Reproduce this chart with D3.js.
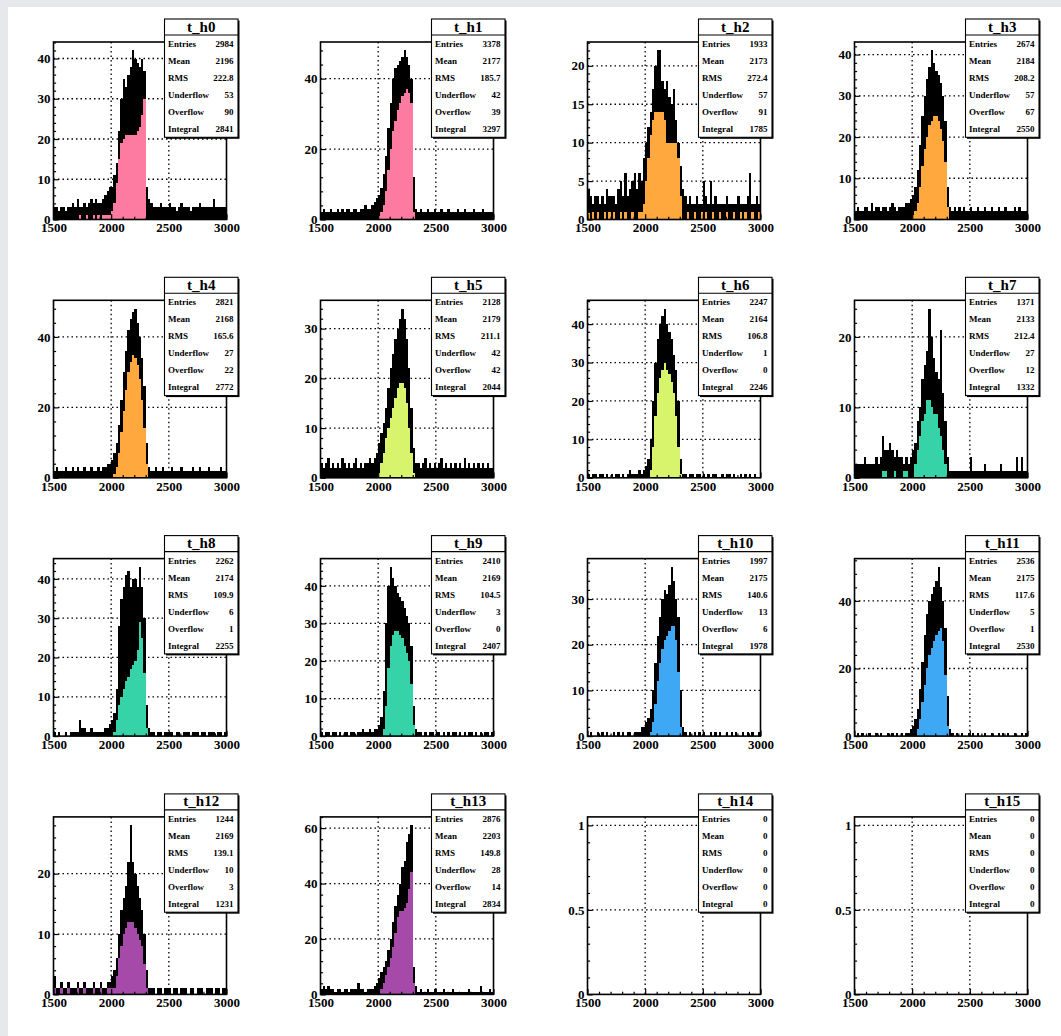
<!DOCTYPE html>
<html><head><meta charset="utf-8">
<script src="https://cdn.jsdelivr.net/npm/d3@7"></script>
<style>html,body{margin:0;padding:0;background:#e6e8ec;}svg{display:block;}</style>
</head><body><svg id="c" width="1061" height="1036"></svg>
<script>
const names = ["t_h0","t_h1","t_h2","t_h3","t_h4","t_h5","t_h6","t_h7","t_h8","t_h9","t_h10","t_h11","t_h12","t_h13","t_h14","t_h15"];
const xMin = 1500, xMax = 3000, binWidth = 20;
const xTicks = [1500, 2000, 2500, 3000];
const yTickStep = [10,20,5,10,20,10,10,10,10,10,10,20,10,20,0.5,0.5];
const fillColors = ["#fd7ba0","#fd7ba0","#fea83e","#fea83e","#fea83e","#d8f46c","#d8f46c","#36d3a8","#36d3a8","#36d3a8","#3fa8f4","#3fa8f4","#a54aa8","#a54aa8","#ffffff","#ffffff"];
const statLabels = ["Entries","Mean","RMS","Underflow","Overflow","Integral"];
const entries   = [2984,3378,1933,2674,2821,2128,2247,1371,2262,2410,1997,2536,1244,2876,0,0];
const means     = [2196,2177,2173,2184,2168,2179,2164,2133,2174,2169,2175,2175,2169,2203,0,0];
const rmsVals   = [222.8,185.7,272.4,208.2,165.6,211.1,106.8,212.4,109.9,104.5,140.6,117.6,139.1,149.8,0,0];
const underflows= [53,42,57,57,27,42,1,27,6,3,13,5,10,28,0,0];
const overflows = [90,39,91,67,22,42,0,12,1,0,6,1,3,14,0,0];
const integrals = [2841,3297,1785,2550,2772,2044,2246,1332,2255,2407,1978,2530,1231,2834,0,0];

// upper envelope (black line peaks) and lower envelope (visible fill) per 20-unit bin, 1500..3000
const hi0 = [3,3,2,3,3, 2,3,3,4,3, 5,3,3,4,3, 4,5,4,5,4, 4,5,6,7,8, 8,11,14,22,30, 35,33,36,38,42, 40,39,38,40,37, 8,5,4,3,3, 3,4,3,3,3, 4,3,3,2,3, 4,3,3,3,2, 3,3,3,4,3, 3,3,3,3,5, 3,3,3,3,3];
const lo0 = [0,0,0,0,0, 0,0,0,0,0, 0,1,0,0,1, 0,0,1,0,1, 0,1,1,1,1, 2,4,9,15,19, 20,21,21,21,21, 21,22,23,26,30, 0,0,0,0,0, 0,0,0,0,0, 0,0,0,0,0, 0,0,0,0,0, 0,0,0,0,0, 0,0,0,0,0, 0,0,0,0,0];
const hi1 = [2,3,2,2,3, 2,2,3,2,3, 2,3,3,2,3, 3,2,3,3,4, 3,3,4,5,6, 7,9,13,18,26, 33,40,43,44,45, 46,48,46,44,40, 12,3,2,3,2, 2,3,2,2,3, 2,2,3,2,2, 3,2,2,2,3, 2,2,3,2,2, 2,3,2,2,2, 3,2,2,2,2];
const lo1 = [0,0,0,0,0, 0,0,0,0,0, 0,0,0,0,0, 0,0,0,0,0, 0,0,0,0,0, 1,2,4,8,14, 20,25,28,31,33, 35,36,37,36,33, 2,0,0,0,0, 0,0,0,0,0, 0,0,0,0,0, 0,0,0,0,0, 0,0,0,0,0, 0,0,0,0,0, 0,0,0,0,0];
const hi2 = [4,3,2,3,3, 2,3,2,4,3, 3,3,2,4,5, 3,6,3,4,5, 6,4,6,5,8, 10,12,14,17,20, 22,22,18,17,18, 16,15,17,13,10, 7,4,3,2,3, 2,2,3,2,2, 5,3,2,5,2, 3,2,2,2,2, 3,2,2,2,2, 3,2,2,2,3, 6,2,2,3,2];
const lo2 = [1,0,1,0,1, 0,0,1,0,1, 0,1,0,0,1, 0,1,0,0,1, 0,0,1,1,2, 5,8,11,13,14, 14,14,14,13,10, 10,10,10,10,8, 3,0,0,1,0, 0,1,0,0,1, 0,1,0,0,1, 0,0,1,0,0, 1,0,0,1,0, 0,1,0,1,0, 0,1,0,0,1];
const hi3 = [2,3,2,2,3, 3,2,4,2,3, 3,2,3,3,2, 3,4,3,2,3, 3,3,4,4,5, 6,8,12,18,25, 30,34,37,41,38, 36,35,33,30,24, 8,3,2,3,2, 3,2,3,2,2, 3,2,2,3,2, 2,3,2,2,3, 2,2,3,2,2, 3,2,2,2,3, 2,3,2,2,2];
const lo3 = [0,0,0,0,0, 0,0,0,0,0, 0,0,0,0,0, 0,0,0,0,0, 0,0,0,0,0, 1,2,4,8,13, 17,20,23,24,25, 25,24,22,19,14, 3,0,0,0,0, 0,0,0,0,0, 0,0,0,0,0, 0,0,0,0,0, 0,0,0,0,0, 0,0,0,0,0, 0,0,0,0,0];
const hi4 = [2,3,2,2,2, 3,2,2,3,2, 3,2,2,3,2, 2,3,2,2,3, 2,3,3,4,4, 5,7,10,15,22, 30,36,42,45,47, 48,44,40,34,26, 10,3,2,2,3, 2,2,3,2,2, 2,3,2,2,2, 3,2,2,2,2, 3,2,2,3,2, 2,2,3,2,2, 2,2,3,2,2];
const lo4 = [0,0,0,0,0, 0,0,0,0,0, 0,0,0,0,0, 0,0,0,0,0, 0,0,0,0,0, 0,1,3,7,13, 19,25,30,33,35, 34,32,28,22,14, 4,0,0,0,0, 0,0,0,0,0, 0,0,0,0,0, 0,0,0,0,0, 0,0,0,0,0, 0,0,0,0,0, 0,0,0,0,0];
const hi5 = [3,2,3,4,2, 3,2,3,2,4, 3,2,3,2,3, 4,2,3,2,3, 3,4,3,4,5, 7,9,11,14,18, 22,25,28,30,32, 34,32,28,22,14, 6,3,3,2,3, 4,2,3,2,3, 2,3,4,2,3, 2,3,2,3,2, 3,2,4,2,3, 2,3,2,3,2, 3,2,3,2,2];
const lo5 = [0,0,0,0,0, 0,0,0,0,0, 0,0,0,0,0, 0,0,0,0,0, 0,0,0,0,0, 1,3,5,8,10, 12,14,16,18,19, 19,18,15,10,5, 1,0,0,0,0, 0,0,0,0,0, 0,0,0,0,0, 0,0,0,0,0, 0,0,0,0,0, 0,0,0,0,0, 0,0,0,0,0];
const hi6 = [1,0,1,1,0, 1,1,0,1,0, 1,0,1,1,0, 1,0,1,2,1, 1,1,2,1,2, 3,5,10,20,30, 36,40,42,44,40, 38,36,32,28,20, 5,1,1,0,1, 1,0,1,1,0, 1,0,1,0,1, 1,0,0,1,0, 1,1,0,1,0, 0,1,0,1,0, 1,0,1,0,0];
const lo6 = [0,0,0,0,0, 0,0,0,0,0, 0,0,0,0,0, 0,0,0,0,0, 0,0,0,0,0, 0,0,2,8,16, 22,26,28,30,28, 27,25,22,16,8, 1,0,0,0,0, 0,0,0,0,0, 0,0,0,0,0, 0,0,0,0,0, 0,0,0,0,0, 0,0,0,0,0, 0,0,0,0,0];
const hi7 = [2,2,2,2,3, 2,2,2,2,3, 2,3,6,4,4, 5,4,3,4,3, 3,2,3,2,3, 4,5,8,10,14, 16,18,24,20,17, 15,14,21,12,8, 3,1,1,1,1, 1,1,1,1,1, 3,1,1,1,1, 1,2,1,1,1, 1,1,1,2,1, 1,1,1,1,1, 3,1,3,1,1];
const lo7 = [0,0,0,0,0, 0,0,0,0,0, 0,0,1,1,0, 0,0,1,0,0, 0,1,1,0,0, 0,2,4,6,8, 9,11,11,10,9, 9,7,6,4,2, 0,0,0,0,0, 0,0,0,0,0, 0,0,0,0,0, 0,0,0,0,0, 0,0,0,0,0, 0,0,0,0,0, 0,0,0,0,0];
const hi8 = [1,0,1,0,0, 1,0,1,1,1, 1,4,2,2,1, 1,2,1,1,1, 1,1,2,2,3, 4,6,12,28,35, 38,41,42,38,40, 40,38,43,38,30, 8,2,1,1,0, 1,1,0,1,1, 1,1,0,1,1, 0,1,1,1,0, 1,1,1,0,1, 1,0,1,1,1, 0,1,1,0,1];
const lo8 = [0,0,0,0,0, 0,0,0,0,0, 0,0,0,0,0, 0,0,0,0,0, 0,0,0,0,0, 0,1,4,8,10, 12,14,15,17,18, 19,22,29,25,16, 2,0,0,0,0, 0,0,0,0,0, 0,0,0,0,0, 0,0,0,0,0, 0,0,0,0,0, 0,0,0,0,0, 0,0,0,0,0];
const hi9 = [1,0,1,1,0, 1,1,0,1,0, 1,1,0,1,1, 0,1,1,2,1, 1,2,1,2,2, 3,5,12,30,40, 45,42,40,38,37, 36,34,32,30,24, 8,2,1,1,0, 1,0,1,1,0, 1,1,0,1,0, 1,0,1,1,0, 1,0,1,0,1, 1,0,1,0,1, 0,1,1,0,1];
const lo9 = [0,0,0,0,0, 0,0,0,0,0, 0,0,0,0,0, 0,0,0,0,0, 0,0,0,0,0, 0,0,2,8,18, 24,27,28,28,27, 26,24,22,20,14, 3,0,0,0,0, 0,0,0,0,0, 0,0,0,0,0, 0,0,0,0,0, 0,0,0,0,0, 0,0,0,0,0, 0,0,0,0,0];
const hi10 = [0,1,0,0,1, 0,1,0,1,0, 0,1,0,1,0, 1,0,1,1,0, 1,1,1,2,2, 3,4,6,10,16, 22,26,30,32,31, 33,37,34,30,26, 10,2,1,0,1, 0,1,0,1,0, 1,0,0,1,0, 1,0,1,0,0, 1,0,1,0,1, 0,0,1,0,1, 0,1,0,0,1];
const lo10 = [0,0,0,0,0, 0,0,0,0,0, 0,0,0,0,0, 0,0,0,0,0, 0,0,0,0,0, 0,0,1,3,7, 12,16,19,21,22, 23,24,24,21,14, 2,0,0,0,0, 0,0,0,0,0, 0,0,0,0,0, 0,0,0,0,0, 0,0,0,0,0, 0,0,0,0,0, 0,0,0,0,0];
const hi11 = [0,1,0,1,0, 0,1,0,0,1, 0,1,0,0,1, 0,1,0,1,0, 1,0,1,1,2, 3,5,8,14,22, 30,36,40,42,44, 46,50,44,40,32, 12,2,1,0,1, 0,1,0,0,1, 0,1,0,1,0, 0,1,0,0,1, 0,0,1,0,1, 0,1,0,0,1, 0,0,1,0,1];
const lo11 = [0,0,0,0,0, 0,0,0,0,0, 0,0,0,0,0, 0,0,0,0,0, 0,0,0,0,0, 0,0,2,5,10, 15,20,24,26,28, 30,31,32,28,18, 3,0,0,0,0, 0,0,0,0,0, 0,0,0,0,0, 0,0,0,0,0, 0,0,0,0,0, 0,0,0,0,0, 0,0,0,0,0];
const hi12 = [3,1,1,2,1, 1,2,1,1,1, 2,1,1,2,1, 1,1,2,1,1, 2,1,1,2,2, 3,4,6,10,14, 16,18,22,28,22, 20,18,16,14,10, 4,1,1,1,0, 1,1,0,1,1, 1,0,1,1,0, 1,1,1,0,1, 1,0,1,1,1, 0,1,1,1,0, 1,1,0,1,1];
const lo12 = [1,0,0,1,0, 0,1,0,0,0, 1,0,0,1,0, 0,0,1,0,0, 1,0,0,1,1, 1,1,3,6,8, 10,11,12,12,12, 11,10,9,8,5, 1,0,0,0,0, 0,0,0,0,0, 0,0,0,0,0, 0,0,0,0,0, 0,0,0,0,0, 0,0,0,0,0, 0,0,0,0,0];
const hi13 = [2,3,2,3,2, 2,1,2,2,1, 2,2,1,2,2, 2,4,2,2,1, 2,2,2,3,4, 6,8,10,12,16, 20,26,32,36,40, 46,48,55,58,61, 10,3,1,2,1, 1,2,1,1,2, 1,1,1,2,1, 1,1,2,1,1, 1,1,1,1,2, 1,1,1,1,3, 1,1,1,2,1];
const lo13 = [0,0,0,0,0, 0,0,0,0,0, 0,0,0,0,0, 0,0,0,0,0, 0,0,0,0,0, 0,2,4,7,10, 13,17,22,28,30, 30,31,33,38,44, 4,0,0,0,0, 0,0,0,0,0, 0,0,0,0,0, 0,0,0,0,0, 0,0,0,0,0, 0,0,0,0,0, 0,0,0,0,0];
const hi14 = [0,0,0,0,0, 0,0,0,0,0, 0,0,0,0,0, 0,0,0,0,0, 0,0,0,0,0, 0,0,0,0,0, 0,0,0,0,0, 0,0,0,0,0, 0,0,0,0,0, 0,0,0,0,0, 0,0,0,0,0, 0,0,0,0,0, 0,0,0,0,0, 0,0,0,0,0, 0,0,0,0,0];
const lo14 = hi14;
const hi15 = hi14;
const lo15 = hi14;

const hiData = [hi0,hi1,hi2,hi3,hi4,hi5,hi6,hi7,hi8,hi9,hi10,hi11,hi12,hi13,hi14,hi15];
const loData = [lo0,lo1,lo2,lo3,lo4,lo5,lo6,lo7,lo8,lo9,lo10,lo11,lo12,lo13,lo14,lo15];

const svg = d3.select("#c");
svg.append("rect").attr("x",8).attr("y",7).attr("width",1053).attr("height",1029).attr("fill","#fff");
const padW = 267, padH = 258.3, ox = 8, oy = 7;
const FONT = "'Liberation Serif','Times New Roman',serif";

names.forEach((name, k) => {
  const col = k % 4, row = Math.floor(k / 4);
  const px = ox + col * padW, py = oy + row * padH;
  const fl = px + 45.5, fr = px + 218.5, ft = py + 35, fb = py + 212.5;
  const hi = hiData[k], lo = loData[k];
  const maxV = d3.max(hi);
  const yMax = maxV > 0 ? maxV * 1.05 : 1.05;
  const x = d3.scaleLinear().domain([xMin, xMax]).range([fl, fr]);
  const y = d3.scaleLinear().domain([0, yMax]).range([fb, ft]);
  const g = svg.append("g");
  const step = yTickStep[k];
  const yMajor = d3.range(0, yMax + 1e-9, step);
  const yMinor = d3.range(0, yMax + 1e-9, step / 5).filter(v => Math.abs(v / step - Math.round(v / step)) > 1e-6);
  const xMinor = d3.range(xMin, xMax + 1e-9, 100).filter(v => v % 500 !== 0);

  // grid
  g.selectAll("line.gx").data(xTicks.filter(v => v > xMin && v < xMax)).join("line")
    .attr("x1", d => x(d)).attr("x2", d => x(d)).attr("y1", ft).attr("y2", fb)
    .attr("stroke", "#000").attr("stroke-width", 1.3).attr("stroke-dasharray", "1.5,3");
  g.selectAll("line.gy").data(yMajor.filter(v => v > 0)).join("line")
    .attr("x1", fl).attr("x2", fr).attr("y1", d => y(d)).attr("y2", d => y(d))
    .attr("stroke", "#000").attr("stroke-width", 1.3).attr("stroke-dasharray", "1.5,3");

  // histogram
  const bins = hi.map((h, i) => ({x0: xMin + i * binWidth, x1: xMin + (i + 1) * binWidth, hi: h, lo: lo[i]}));
  g.append("g").attr("shape-rendering", "crispEdges").selectAll("rect").data(bins.filter(b => b.lo > 0)).join("rect")
    .attr("x", d => x(d.x0)).attr("width", d => x(d.x1) - x(d.x0))
    .attr("y", d => y(d.lo)).attr("height", d => y(0) - y(d.lo))
    .attr("fill", fillColors[k]);
  g.append("g").attr("shape-rendering", "crispEdges").selectAll("rect").data(bins.filter(b => b.hi > b.lo)).join("rect")
    .attr("x", d => x(d.x0)).attr("width", d => x(d.x1) - x(d.x0))
    .attr("y", d => y(d.hi)).attr("height", d => y(d.lo) - y(d.hi))
    .attr("fill", "#000");

  // axes
  g.append("g").attr("transform", `translate(0,${fb})`)
    .call(d3.axisBottom(x).tickValues(xTicks).tickSize(-5.3).tickPadding(3.5).tickFormat(d3.format("d")));
  g.append("g").attr("transform", `translate(0,${fb})`)
    .call(d3.axisBottom(x).tickValues(xMinor).tickSize(-2.7).tickFormat(""));
  g.append("g").attr("transform", `translate(${fl},0)`)
    .call(d3.axisLeft(y).tickValues(yMajor).tickSize(-5.2).tickPadding(3).tickFormat(d3.format("~g")));
  g.append("g").attr("transform", `translate(${fl},0)`)
    .call(d3.axisLeft(y).tickValues(yMinor).tickSize(-2.6).tickFormat(""));
  g.selectAll(".domain").remove();
  g.selectAll(".tick line").attr("stroke", "#000").attr("stroke-width", 1.2);
  g.selectAll(".tick text").attr("font-family", FONT).attr("font-weight", "bold").attr("font-size", 13).attr("fill", "#000");

  // frame
  g.append("rect").attr("x", fl).attr("y", ft).attr("width", fr - fl).attr("height", fb - ft)
    .attr("fill", "none").attr("stroke", "#000").attr("stroke-width", 1.6);

  // stats box
  const bx = px + 156.5, by = py + 12, bw = 73.5, bh = 118.3;
  g.append("rect").attr("x", bx + 1.5).attr("y", by + 1.5).attr("width", bw).attr("height", bh).attr("fill", "#000");
  g.append("rect").attr("x", bx).attr("y", by).attr("width", bw).attr("height", bh)
    .attr("fill", "#fff").attr("stroke", "#000").attr("stroke-width", 1.1);
  g.append("line").attr("x1", bx).attr("x2", bx + bw).attr("y1", by + 16).attr("y2", by + 16)
    .attr("stroke", "#000").attr("stroke-width", 1.1);
  g.append("text").attr("x", bx + bw / 2).attr("y", by + 12.5).attr("text-anchor", "middle")
    .attr("font-family", FONT).attr("font-weight", "bold").attr("font-size", 15).text(name);
  const vals = [entries[k], means[k], rmsVals[k], underflows[k], overflows[k], integrals[k]];
  statLabels.forEach((lab, j) => {
    const ty = by + 28 + j * 17;
    g.append("text").attr("x", bx + 3.5).attr("y", ty).attr("font-family", FONT).attr("font-weight", "bold")
      .attr("font-size", 9).text(lab);
    g.append("text").attr("x", bx + bw - 4.5).attr("y", ty).attr("text-anchor", "end").attr("font-family", FONT)
      .attr("font-weight", "bold").attr("font-size", 9).text(String(vals[j]));
  });
});
</script></body></html>
